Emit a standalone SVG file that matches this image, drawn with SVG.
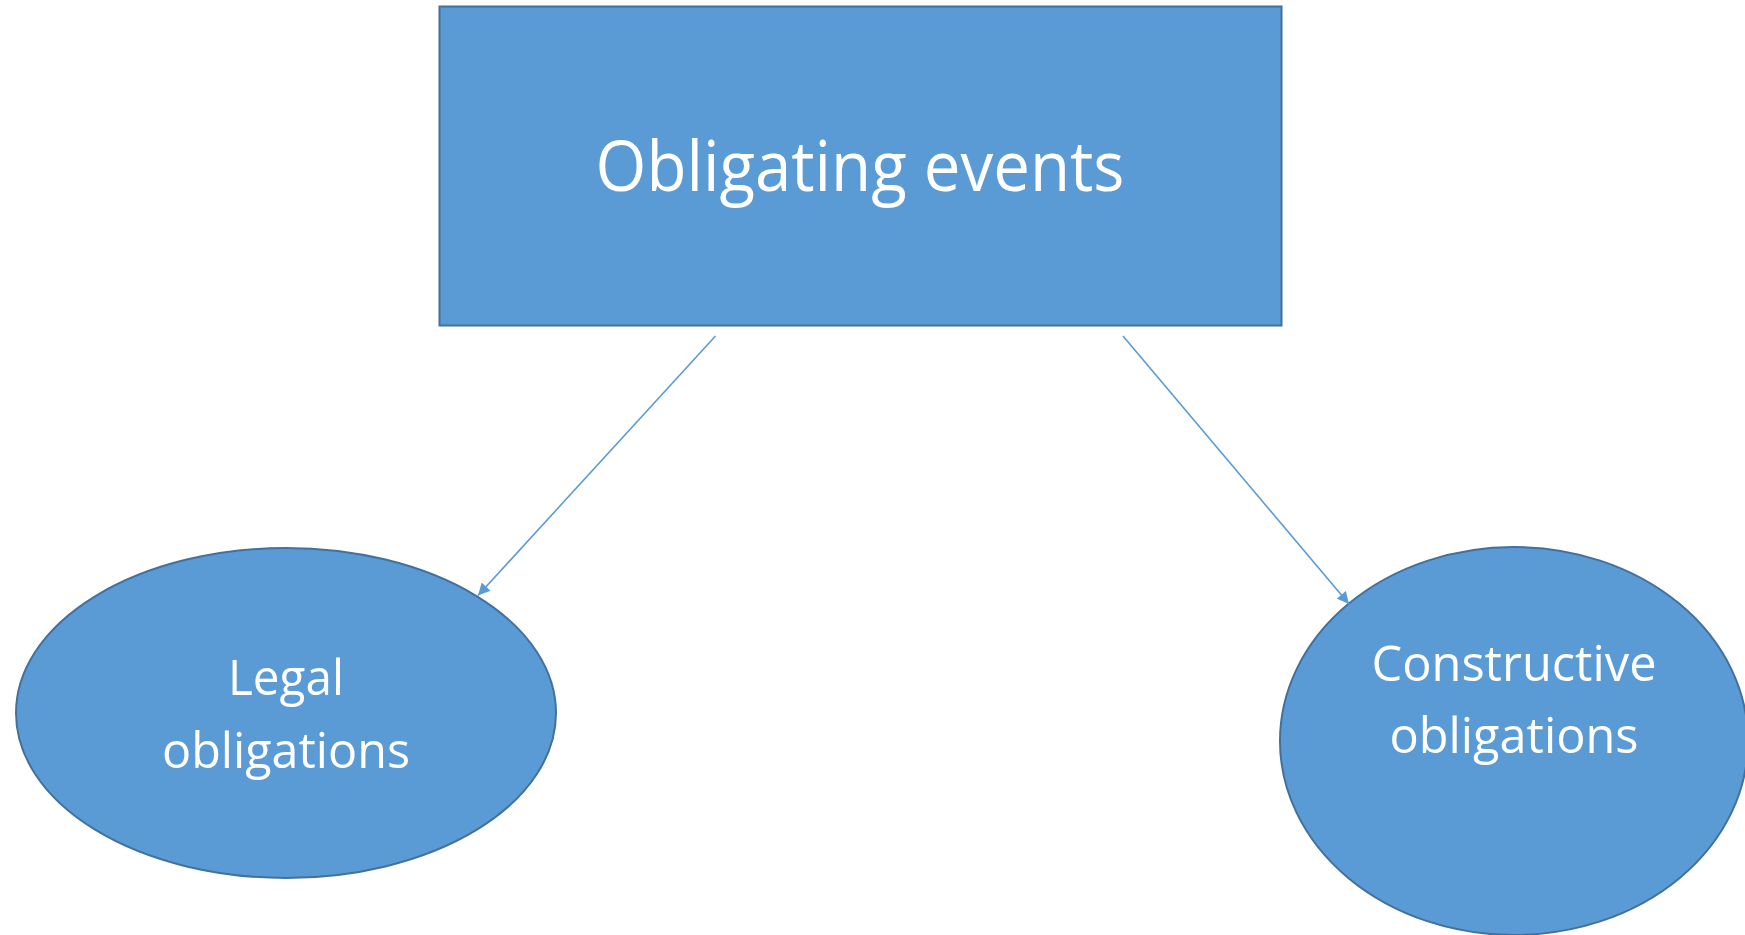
<svg xmlns="http://www.w3.org/2000/svg" width="1745" height="935" viewBox="0 0 1745 935">
<style>
.shape{fill:#5B9BD5;stroke:#41719C;stroke-width:2}
.lbl{font-family:"Open Sans","Noto Sans","Liberation Sans",sans-serif;fill:#FFFFFF;text-anchor:middle}
.conn{stroke:#5B9BD5;stroke-width:1.6;fill:none}
</style>
<defs>
<marker id="arr" viewBox="0 0 10 10" refX="10" refY="5" markerWidth="13" markerHeight="12" markerUnits="userSpaceOnUse" orient="auto">
<path d="M0,0 L10,5 L0,10 z" fill="#5B9BD5"/>
</marker>
</defs>
<rect width="1745" height="935" fill="#FFFFFF"/>
<g id="node-obligating-events">
<rect class="shape" x="439.5" y="6.5" width="842" height="319"/>
<text class="lbl" x="860" y="191" font-size="70" textLength="529" lengthAdjust="spacingAndGlyphs">Obligating events</text>
</g>
<g id="node-legal">
<ellipse class="shape" cx="286" cy="713" rx="270" ry="165"/>
<text class="lbl" x="286" y="695" font-size="50" textLength="116" lengthAdjust="spacingAndGlyphs">Legal</text>
<text class="lbl" x="286" y="768" font-size="50" textLength="248" lengthAdjust="spacingAndGlyphs">obligations</text>
</g>
<g id="node-constructive">
<ellipse class="shape" cx="1514" cy="741" rx="234" ry="194"/>
<text class="lbl" x="1514" y="681" font-size="50" textLength="285" lengthAdjust="spacingAndGlyphs">Constructive</text>
<text class="lbl" x="1514" y="753" font-size="50" textLength="249" lengthAdjust="spacingAndGlyphs">obligations</text>
</g>
<g id="connectors">
<line class="conn" x1="715.5" y1="336" x2="478" y2="595.5" marker-end="url(#arr)"/>
<line class="conn" x1="1123" y1="336" x2="1349" y2="604" marker-end="url(#arr)"/>
</g>
</svg>
